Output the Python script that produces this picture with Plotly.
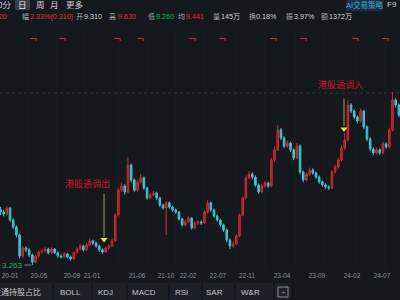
import plotly.graph_objects as go
import pandas as pd

# ---------------- data ----------------
dates = pd.date_range("2019-11-29", periods=126, freq="14D")
opens = [5.30, 5.21, 5.14, 5.36, 4.92, 4.66, 4.37, 3.59, 3.89, 3.82,
         3.63, 3.37, 3.59, 3.74, 3.78, 3.85, 3.71, 3.85, 3.71, 3.59,
         3.56, 3.67, 3.56, 3.48, 3.71, 3.85, 3.96, 3.82, 4.00, 4.15,
         4.07, 3.96, 3.82, 3.74, 3.89, 3.96, 4.15, 5.10, 6.02, 6.17,
         5.95, 6.94, 6.39, 6.02, 6.32, 6.47, 6.10, 5.73, 5.84, 5.91,
         5.73, 5.47, 5.36, 5.55, 5.40, 5.29, 5.21, 4.96, 4.74, 4.85,
         4.99, 4.63, 4.81, 4.85, 4.81, 5.21, 5.55, 5.29, 5.07, 4.92,
         4.74, 4.55, 4.18, 3.96, 4.04, 4.33, 5.10, 5.73, 6.47, 6.61,
         6.50, 6.21, 5.95, 6.17, 6.28, 6.17, 7.13, 7.50, 8.23, 7.94,
         7.64, 7.75, 7.50, 7.20, 7.64, 6.69, 6.39, 6.61, 6.76, 6.65,
         6.50, 6.32, 6.21, 6.13, 6.10, 6.69, 6.87, 7.13, 7.57, 7.86,
         9.15, 8.93, 8.71, 8.56, 8.93, 8.34, 7.90, 7.53, 7.39, 7.50,
         7.39, 7.72, 7.61, 8.23, 9.34, 9.15]
closes = [5.21, 5.14, 5.36, 4.92, 4.66, 4.37, 3.59, 3.89, 3.82, 3.63,
          3.37, 3.59, 3.74, 3.78, 3.85, 3.71, 3.85, 3.71, 3.59, 3.56,
          3.67, 3.56, 3.48, 3.71, 3.85, 3.96, 3.82, 4.00, 4.15, 4.07,
          3.96, 3.82, 3.74, 3.89, 3.96, 4.15, 5.10, 6.02, 6.17, 5.95,
          6.94, 6.39, 6.02, 6.32, 6.47, 6.10, 5.73, 5.84, 5.91, 5.73,
          5.47, 5.36, 5.55, 5.40, 5.29, 5.21, 4.96, 4.74, 4.85, 4.99,
          4.63, 4.81, 4.85, 4.81, 5.21, 5.55, 5.29, 5.07, 4.92, 4.74,
          4.55, 4.18, 3.96, 4.04, 4.33, 5.10, 5.73, 6.47, 6.61, 6.50,
          6.21, 5.95, 6.17, 6.28, 6.17, 7.13, 7.50, 8.23, 7.94, 7.64,
          7.75, 7.50, 7.20, 7.64, 6.69, 6.39, 6.61, 6.76, 6.65, 6.50,
          6.32, 6.21, 6.13, 6.10, 6.69, 6.87, 7.13, 7.57, 7.86, 9.15,
          8.93, 8.71, 8.56, 8.93, 8.34, 7.90, 7.53, 7.39, 7.50, 7.39,
          7.72, 7.61, 8.23, 9.34, 9.15, 8.78]
highs = [5.40, 5.30, 5.42, 5.40, 4.98, 4.72, 4.42, 3.96, 3.95, 3.88,
         3.68, 3.64, 3.80, 3.86, 3.93, 3.90, 3.92, 3.89, 3.76, 3.66,
         3.74, 3.71, 3.61, 3.77, 3.92, 4.04, 4.01, 4.07, 4.24, 4.20,
         4.12, 4.01, 3.88, 3.95, 4.03, 4.22, 5.18, 6.10, 6.30, 6.24,
         7.24, 7.00, 6.45, 6.40, 6.61, 6.52, 6.15, 5.92, 5.99, 5.96,
         5.78, 5.52, 5.62, 5.60, 5.45, 5.34, 5.25, 5.00, 4.92, 5.06,
         5.03, 4.88, 4.92, 4.90, 5.28, 5.65, 5.60, 5.34, 5.12, 4.97,
         4.79, 4.60, 4.24, 4.12, 4.40, 5.16, 5.80, 6.56, 6.72, 6.68,
         6.56, 6.26, 6.24, 6.36, 6.33, 7.20, 7.62, 8.42, 8.30, 8.00,
         7.85, 7.80, 7.55, 7.75, 7.70, 6.75, 6.68, 6.85, 6.82, 6.70,
         6.56, 6.37, 6.27, 6.20, 6.76, 6.95, 7.22, 7.66, 8.12, 9.34,
         9.22, 8.99, 8.77, 9.02, 8.98, 8.40, 7.96, 7.60, 7.58, 7.55,
         7.80, 7.78, 8.32, 9.63, 9.40, 9.20]
lows = [5.10, 5.05, 5.08, 4.85, 4.58, 4.28, 3.50, 3.52, 3.74, 3.55,
        3.263, 3.33, 3.54, 3.68, 3.72, 3.65, 3.66, 3.66, 3.53, 3.50,
        3.51, 3.50, 3.42, 3.45, 3.67, 3.80, 3.76, 3.78, 3.95, 4.00,
        3.90, 3.75, 3.67, 3.70, 3.84, 3.92, 4.12, 5.05, 5.95, 5.85,
        5.90, 6.30, 5.95, 5.96, 6.25, 6.02, 5.66, 5.68, 5.78, 5.66,
        5.40, 5.30, 4.37, 5.33, 5.22, 5.14, 4.90, 4.68, 4.69, 4.80,
        4.56, 4.58, 4.75, 4.74, 4.77, 5.16, 5.22, 5.00, 4.86, 4.67,
        4.48, 4.10, 3.85, 3.90, 3.99, 4.28, 5.05, 5.68, 6.40, 6.42,
        6.14, 5.88, 5.90, 6.11, 6.10, 6.12, 7.05, 7.45, 7.86, 7.56,
        7.58, 7.42, 7.12, 7.15, 6.60, 6.31, 6.34, 6.55, 6.58, 6.43,
        6.25, 6.14, 6.06, 6.02, 6.05, 6.62, 6.81, 7.08, 7.50, 7.80,
        8.85, 8.63, 8.48, 8.50, 8.26, 7.82, 7.45, 7.31, 7.33, 7.31,
        7.34, 7.53, 7.55, 8.18, 9.06, 8.70]

tick_dates = ["2020-01-10", "2020-05-16", "2020-10-08", "2021-01-04", "2021-07-21",
              "2021-11-25", "2022-03-02", "2022-07-11", "2022-11-16", "2023-04-19",
              "2023-09-19", "2024-02-20", "2024-07-01"]
tick_labels = ["20-01", "20-05", "20-09", "21-01", "21-06", "21-10", "22-02",
               "22-07", "22-11", "23-04", "23-09", "24-02", "24-07"]

event_dates = ["2021-02-26", "2024-01-16"]
event_prices = [4.20, 8.27]
event_labels = ["港股通调出", "港股通调入"]

report_dates = ["2020-04-20", "2020-08-25", "2021-04-24", "2021-08-03", "2022-03-20",
                "2022-07-29", "2023-03-10", "2023-07-20", "2024-03-04", "2024-07-14"]

min_price = 3.263
min_index = 10

period_tabs = ["60分", "日", "周", "月", "更多"]
quote_labels = ["幅", "开", "高", "低", "均", "量", "换", "振", "额"]
quote_values = ["3.33%(0.310)", "9.310", "9.630", "9.260", "9.441", "145万", "0.18%", "3.97%", "1372万"]
last_price = "9.620"
indicator_tabs = ["港股通持股占比", "BOLL", "KDJ", "MACD", "RSI", "SAR", "W&R"]

# ---------------- styling / layout ----------------
BG = "#15181d"
RED = "#e0323c"
GREEN = "#1fb35a"
CYAN = "#3fc4cf"
WHITE = "#cfd3d9"
LABEL = "#a9aeb6"
FONT = "Liberation Sans, Noto Sans CJK SC"
PT, PB = 28, 270


def px(x):
    return x / 400.0


def py(y):
    return (PB - y) / float(PB - PT)


fig = go.Figure()
fig.add_trace(go.Candlestick(
    x=dates, open=opens, high=highs, low=lows, close=closes,
    increasing=dict(line=dict(color="#d02a34", width=1), fillcolor="#9c1e27"),
    decreasing=dict(line=dict(color=CYAN, width=1), fillcolor=CYAN),
    whiskerwidth=0, hoverinfo="skip", showlegend=False))

fig.add_trace(go.Scatter(
    x=event_dates, y=event_prices, mode="markers",
    marker=dict(symbol="triangle-down", size=6, color="#f2e34a", line=dict(width=0)),
    hoverinfo="skip", showlegend=False))

shapes = []
# faint vertical grid
for gx in [28, 57, 85, 118, 147, 175, 205, 235, 265, 295, 325, 355, 385]:
    shapes.append(dict(type="line", xref="paper", yref="paper", x0=px(gx), x1=px(gx),
                       y0=0, y1=1, line=dict(color="#1b1f25", width=1), layer="below"))
# dotted horizontal grid
shapes.append(dict(type="line", xref="paper", yref="paper", x0=0, x1=1, y0=py(93), y1=py(93),
                   line=dict(color="#30343b", width=1, dash="dot"), layer="below"))
# top tab box for 日
shapes.append(dict(type="rect", xref="paper", yref="paper", x0=px(15), x1=px(30),
                   y0=py(10), y1=py(-2), fillcolor="#3a3e46", line=dict(width=0)))
# AI box
shapes.append(dict(type="rect", xref="paper", yref="paper", x0=px(346), x1=px(383),
                   y0=py(11), y1=py(-2), fillcolor="#1a3142", line=dict(width=0)))
# bottom toolbar
shapes.append(dict(type="rect", xref="paper", yref="paper", x0=0, x1=px(292),
                   y0=py(301), y1=py(283), fillcolor="#1d2026", line=dict(width=0)))
for sx in [53, 92, 127, 169, 202, 235, 274, 292]:
    shapes.append(dict(type="line", xref="paper", yref="paper", x0=px(sx), x1=px(sx),
                       y0=py(301), y1=py(283), line=dict(color="#121419", width=1.5)))
shapes.append(dict(type="rect", xref="paper", yref="paper", x0=px(278), x1=px(288),
                   y0=py(297), y1=py(287), line=dict(color="#8a8f98", width=1)))

ann = []
# period tabs
tab_x = [13, 22.5, 40, 54, 75]
for i, (t, x) in enumerate(zip(period_tabs, tab_x)):
    ann.append(dict(xref="paper", yref="paper", x=px(x), y=py(5), text=t, showarrow=False,
                    xanchor="right" if i == 0 else "center", yanchor="middle",
                    font=dict(size=8.5, color=WHITE if i != 1 else "#e6e9ee", family=FONT)))
ann.append(dict(xref="paper", yref="paper", x=px(364.5), y=py(5), text="AI交易策略", showarrow=False,
                xanchor="center", yanchor="middle", font=dict(size=7.5, color="#3fa6d4", family=FONT)))
ann.append(dict(xref="paper", yref="paper", x=px(385), y=py(5), text="F9", showarrow=False,
                xanchor="left", yanchor="middle", font=dict(size=8, color=WHITE, family=FONT)))

# quote row
ann.append(dict(xref="paper", yref="paper", x=px(9), y=py(16.5), text=last_price, showarrow=False,
                xanchor="right", yanchor="middle", font=dict(size=7.5, color=RED, family=FONT)))
label_x = [20, 74, 107, 146, 176, 211, 247, 284, 319]
value_x = [27.5, 81.5, 115.5, 153.5, 183.5, 218.5, 253.5, 291.5, 326.5]
value_colors = [RED, WHITE, RED, GREEN, RED, WHITE, WHITE, WHITE, WHITE]
for lab, val, lx, vx, vc in zip(quote_labels, quote_values, label_x, value_x, value_colors):
    ann.append(dict(xref="paper", yref="paper", x=px(lx), y=py(16.5), text=lab, showarrow=False,
                    xanchor="left", yanchor="middle", font=dict(size=7, color=LABEL, family=FONT)))
    ann.append(dict(xref="paper", yref="paper", x=px(vx), y=py(16.5), text=val, showarrow=False,
                    xanchor="left", yanchor="middle", font=dict(size=7.2, color=vc, family=FONT)))

# report markers
for d in report_dates:
    ann.append(dict(xref="x", yref="paper", x=d, y=py(40), text="¬", showarrow=False,
                    xanchor="center", yanchor="middle",
                    font=dict(size=10, color="#e0232c", family="DejaVu Sans")))

# events
ev_len = [47, 32]
ev_dx = [-16.5, -3.5]
ev_dy = [56.5, 44]
for d, p, lab, L, dx, dy in zip(event_dates, event_prices, event_labels, ev_len, ev_dx, ev_dy):
    ann.append(dict(xref="x", yref="y", x=d, y=p, text="", showarrow=True, arrowhead=0,
                    ax=0, ay=-L, arrowwidth=1, arrowcolor="#a59f45", standoff=3))
    ann.append(dict(xref="x", yref="y", x=d, y=p, text=lab, showarrow=False,
                    xshift=dx, yshift=dy, font=dict(size=9, color="#c8161e", family=FONT)))

# min label
ann.append(dict(xref="x", yref="y", x=dates[min_index], y=min_price, text=f"{min_price:.3f}",
                showarrow=True, arrowhead=0, ax=-20, ay=0, arrowwidth=1, arrowcolor="#7f858e",
                standoff=1, font=dict(size=8, color=GREEN, family=FONT)))

# indicator tabs
tab_pos = [(43, "right"), (70, "center"), (105, "center"), (143.5, "center"),
           (181, "center"), (214.5, "center"), (250, "center")]
for t, (x, anc) in zip(indicator_tabs, tab_pos):
    ann.append(dict(xref="paper", yref="paper", x=px(x), y=py(292), text=t, showarrow=False,
                    xanchor=anc, yanchor="middle", font=dict(size=8, color="#c3c7cd", family=FONT)))
ann.append(dict(xref="paper", yref="paper", x=px(283), y=py(292), text="+", showarrow=False,
                xanchor="center", yanchor="middle", font=dict(size=8, color="#8a8f98", family=FONT)))

fig.update_layout(
    width=400, height=300,
    margin=dict(l=0, r=0, t=PT, b=300 - PB),
    paper_bgcolor=BG, plot_bgcolor=BG,
    showlegend=False,
    shapes=shapes, annotations=ann,
    xaxis=dict(type="date", range=["2019-11-27", "2024-09-18"], rangeslider=dict(visible=False),
               showgrid=False, zeroline=False, showline=False, ticks="",
               tickmode="array", tickvals=tick_dates, ticktext=tick_labels,
               tickfont=dict(size=6.5, color="#8a8f98", family=FONT)),
    yaxis=dict(range=[3.079, 11.985], showgrid=False, zeroline=False, showticklabels=False,
               showline=False),
)

fig.write_html("out.html")
